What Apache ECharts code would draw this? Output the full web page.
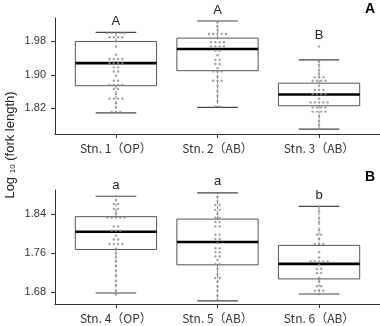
<!DOCTYPE html>
<html><head><meta charset="utf-8">
<script src="https://cdn.jsdelivr.net/npm/echarts@6/dist/echarts.min.js"></script>
<style>html,body{margin:0;padding:0;background:#fff}#c{width:380px;height:326px}</style>
</head><body><div id="c"></div>
<script>
const topLabels = ['Stn. 1（OP）', 'Stn. 2（AB）', 'Stn. 3（AB）'];
const bottomLabels = ['Stn. 4（OP）', 'Stn. 5（AB）', 'Stn. 6（AB）'];
const topTicks = [1.82, 1.90, 1.98];
const bottomTicks = [1.68, 1.76, 1.84];
// [lower whisker, Q1, median, Q3, upper whisker]
const topBoxes = [
  [1.809, 1.874, 1.928, 1.980, 2.002],
  [1.822, 1.910, 1.962, 1.988, 2.029],
  [1.770, 1.826, 1.853, 1.880, 1.936]
];
const bottomBoxes = [
  [1.678, 1.7675, 1.804, 1.835, 1.877],
  [1.662, 1.736, 1.783, 1.830, 1.884],
  [1.676, 1.707, 1.738, 1.776, 1.856]
];
const topLetters = ['A', 'A', 'B'];
const bottomLetters = ['a', 'a', 'b'];

const stn1 = [2.000,2.000,2.000,2.000,2.000, 1.990,1.990,1.990,1.990, 1.980, 1.968, 1.948,
  1.938,1.938,1.938,1.938, 1.928,1.928,1.928,1.928, 1.918,1.918, 1.908,1.908, 1.898,
  1.886,1.886, 1.876,1.876,1.876,1.876, 1.866,1.866, 1.854, 1.843,1.843,1.843,1.843,
  1.832, 1.822, 1.811,1.811,1.811];
const stn2 = [2.026, 2.016, 2.008, 1.998,1.998,1.998,1.998,1.998, 1.988,
  1.978,1.978,1.978,1.978, 1.968,1.968,1.968,1.968, 1.958,1.958, 1.947, 1.936,1.936,
  1.926,1.926, 1.916, 1.908,1.908,1.908, 1.896, 1.886,1.886,1.886, 1.874, 1.862,
  1.850, 1.838, 1.824,1.824];
const stn3 = [1.968, 1.932, 1.924, 1.912, 1.902, 1.894,1.894,1.894, 1.886,1.886,1.886,1.886,
  1.874, 1.864,1.864,1.864, 1.854,1.854,1.854,1.854, 1.843, 1.834,1.834,1.834,1.834,1.834,
  1.822,1.822,1.822,1.822, 1.812,1.812,1.812,1.812, 1.802, 1.790, 1.780, 1.770];
const stn4 = [1.877, 1.869, 1.861,1.861, 1.851,1.851, 1.842, 1.833,1.833,1.833,1.833,1.833,
  1.815,1.815, 1.806,1.806,1.806, 1.796, 1.788,1.788, 1.779,1.779,1.779,1.779, 1.769,
  1.760, 1.751, 1.743, 1.734, 1.724, 1.714, 1.703, 1.694, 1.683, 1.675];
const stn5 = [1.876, 1.867, 1.859,1.859, 1.849,1.849, 1.840, 1.833,1.833, 1.824,1.824,
  1.815,1.815, 1.798,1.798, 1.789,1.789, 1.781, 1.770,1.770, 1.762,1.762, 1.753,1.753,
  1.746, 1.737,1.737, 1.728, 1.717, 1.709,1.709, 1.701, 1.692, 1.683, 1.673, 1.664];
const stn6 = [1.856, 1.846, 1.833, 1.824, 1.807, 1.798,1.798, 1.789, 1.779,1.779,1.779,
  1.762, 1.751, 1.743,1.743,1.743,1.743,1.743, 1.736, 1.728,1.728, 1.719,1.719, 1.709,
  1.701, 1.692,1.692, 1.683,1.683,1.683, 1.676];

const topPoints = [stn1, stn2, stn3];
const bottomPoints = [stn4, stn5, stn6];

const DOT_GAP = 0.042; // horizontal spacing of stacked dots, in category units

function stackDots(groups) {
  const out = [];
  groups.forEach((vals, gi) => {
    const counts = {};
    vals.forEach(v => { counts[v] = (counts[v] || 0) + 1; });
    const seen = {};
    vals.forEach(v => {
      const n = counts[v];
      const i = seen[v] = (seen[v] === undefined ? 0 : seen[v] + 1);
      out.push([gi + 1 + (i - (n - 1) / 2) * DOT_GAP, v]);
    });
  });
  return out;
}

function boxData(boxes) {
  return boxes.map((b, i) => [i + 1, b[0], b[1], b[2], b[3], b[4]]);
}
function letterData(letters, boxes, points) {
  return letters.map((l, i) => [i + 1, Math.max(boxes[i][4], Math.max.apply(null, points[i])), l]);
}

function renderBox(params, api) {
  const x = api.value(0);
  const lo = api.coord([x, api.value(1)]);
  const q1 = api.coord([x, api.value(2)]);
  const md = api.coord([x, api.value(3)]);
  const q3 = api.coord([x, api.value(4)]);
  const hi = api.coord([x, api.value(5)]);
  const unit = api.size([1, 0])[0];
  const bw = unit * 0.8, cw = unit * 0.4;
  const cx = lo[0];
  const dash = {stroke: '#8a8a8a', lineWidth: 1, lineDash: [3, 2]};
  return {
    type: 'group',
    children: [
      {type: 'line', shape: {x1: cx, y1: q3[1], x2: cx, y2: hi[1]}, style: dash},
      {type: 'line', shape: {x1: cx, y1: q1[1], x2: cx, y2: lo[1]}, style: dash},
      {type: 'line', shape: {x1: cx - cw / 2, y1: hi[1], x2: cx + cw / 2, y2: hi[1]}, style: {stroke: '#444', lineWidth: 1.2}},
      {type: 'line', shape: {x1: cx - cw / 2, y1: lo[1], x2: cx + cw / 2, y2: lo[1]}, style: {stroke: '#444', lineWidth: 1.2}},
      {type: 'rect', shape: {x: cx - bw / 2, y: q3[1], width: bw, height: q1[1] - q3[1]}, style: {fill: 'none', stroke: '#555', lineWidth: 1}},
      {type: 'line', shape: {x1: cx - bw / 2, y1: md[1], x2: cx + bw / 2, y2: md[1]}, style: {stroke: '#000', lineWidth: 2.6}}
    ]
  };
}
function renderLetter(params, api) {
  const p = api.coord([api.value(0), api.value(1)]);
  return {
    type: 'text',
    x: p[0], y: p[1] - 11,
    style: {text: api.value(2), fill: '#222', font: '13px "Liberation Sans", Arial, sans-serif', align: 'center', verticalAlign: 'middle'}
  };
}

function xAxisFor(gridIndex, labels) {
  return {
    type: 'value', gridIndex, min: 0.4, max: 3.6,
    axisLine: {show: true, lineStyle: {color: '#333', width: 1}},
    axisTick: {show: true, length: 4, customValues: [1, 2, 3], lineStyle: {color: '#333'}},
    axisLabel: {customValues: [1, 2, 3], margin: 8, formatter: v => labels[Math.round(v) - 1],
      fontFamily: '"Noto Sans CJK JP", sans-serif', fontSize: 12, color: '#333'},
    splitLine: {show: false}
  };
}
function yAxisFor(gridIndex, min, max, ticks) {
  return {
    type: 'value', gridIndex, min, max,
    axisLine: {show: true, lineStyle: {color: '#333', width: 1}},
    axisTick: {show: true, length: 4, customValues: ticks, lineStyle: {color: '#333'}},
    axisLabel: {customValues: ticks, margin: 9, formatter: v => v.toFixed(2),
      fontFamily: '"Liberation Sans", Arial, sans-serif', fontSize: 11, color: '#333'},
    splitLine: {show: false}
  };
}

const chart = echarts.init(document.getElementById('c'), null, {renderer: 'canvas'});
chart.setOption({
  animation: false,
  backgroundColor: '#fff',
  grid: [
    {left: 55, right: 0, top: 18, height: 116},
    {left: 55, right: 0, top: 190, height: 114}
  ],
  xAxis: [xAxisFor(0, topLabels), xAxisFor(1, bottomLabels)],
  yAxis: [yAxisFor(0, 1.7583, 2.0362, topTicks), yAxisFor(1, 1.6554, 1.8898, bottomTicks)],
  series: [
    {type: 'custom', xAxisIndex: 0, yAxisIndex: 0, clip: false, renderItem: renderBox, data: boxData(topBoxes), z: 2},
    {type: 'scatter', xAxisIndex: 0, yAxisIndex: 0, symbolSize: 2.4, itemStyle: {color: '#8c8c8c'}, data: stackDots(topPoints), z: 3},
    {type: 'custom', xAxisIndex: 0, yAxisIndex: 0, clip: false, renderItem: renderLetter, data: letterData(topLetters, topBoxes, topPoints), z: 4},
    {type: 'custom', xAxisIndex: 1, yAxisIndex: 1, clip: false, renderItem: renderBox, data: boxData(bottomBoxes), z: 2},
    {type: 'scatter', xAxisIndex: 1, yAxisIndex: 1, symbolSize: 2.4, itemStyle: {color: '#8c8c8c'}, data: stackDots(bottomPoints), z: 3},
    {type: 'custom', xAxisIndex: 1, yAxisIndex: 1, clip: false, renderItem: renderLetter, data: letterData(bottomLetters, bottomBoxes, bottomPoints), z: 4}
  ],
  graphic: [
    {type: 'text', x: 10, y: 145, rotation: Math.PI / 2,
      style: {text: 'Log {s|10} (fork length)', font: '13px "Liberation Sans", Arial, sans-serif', fill: '#222',
        align: 'center', verticalAlign: 'middle',
        rich: {s: {fontSize: 8, fontFamily: '"Liberation Sans", Arial, sans-serif', verticalAlign: 'bottom', padding: [4, 0, 0, 0]}}}},
    {type: 'text', x: 370, y: 9, style: {text: 'A', font: 'bold 14px "Liberation Sans", Arial, sans-serif', fill: '#000', align: 'center', verticalAlign: 'middle'}},
    {type: 'text', x: 370, y: 177, style: {text: 'B', font: 'bold 14px "Liberation Sans", Arial, sans-serif', fill: '#000', align: 'center', verticalAlign: 'middle'}}
  ]
});
</script>
</body></html>
